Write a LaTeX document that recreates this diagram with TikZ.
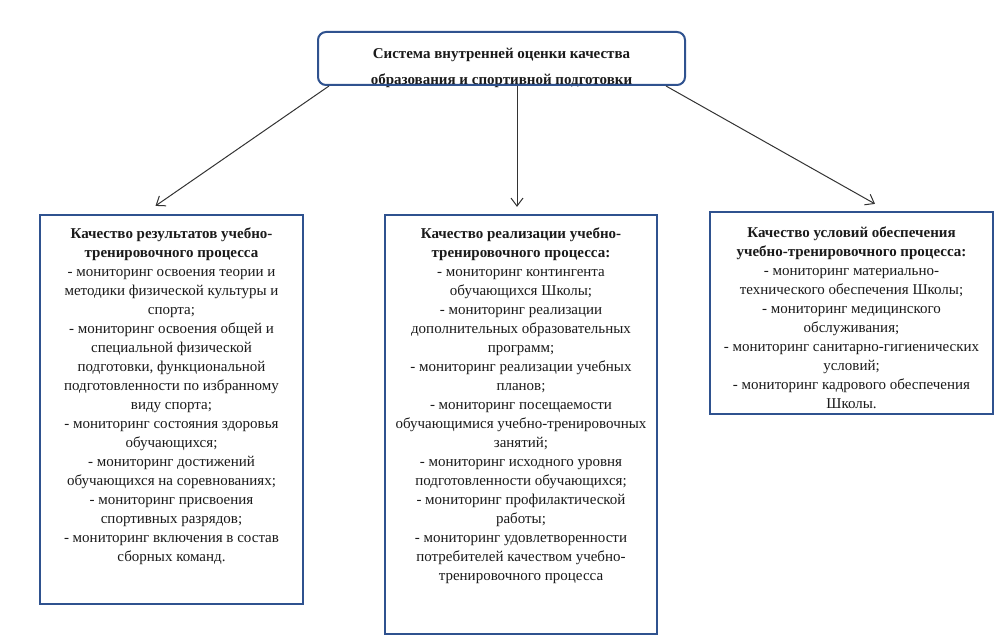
\documentclass[tikz,border=0pt]{standalone}
\usepackage{fontspec}
\setmainfont{Liberation Serif}
\usetikzlibrary{arrows.meta,positioning}
\definecolor{Frame}{HTML}{2F528F}
\definecolor{Ink}{HTML}{1A1A1A}
\definecolor{Wire}{HTML}{333333}
\tikzset{
  headbox/.style={draw=Frame,line width=2pt,rounded corners=8pt,minimum width=367pt,minimum height=53pt,inner sep=0pt},
  headtext/.style={align=center,font=\fontsize{15}{26}\selectfont\bfseries,text=Ink,inner sep=0pt},
  panel/.style={draw=Frame,line width=2.2pt,fill=white,inner sep=0pt},
  paneltext/.style={align=center,font=\fontsize{15}{19}\selectfont,text=Ink,inner sep=0pt,anchor=north},
  arrow/.style={-{Straight Barb[length=8pt,width=12pt]},line width=1pt,draw=Wire}
}

\begin{document}
\begin{tikzpicture}[x=1pt,y=-1pt]
  \useasboundingbox (0,0) rectangle (1003,644);
  \node[headtext] (systext) at (501.5,67.5) {Система внутренней оценки качества\\образования и спортивной подготовки};
  \node[headbox] (sys) at (501.5,58.5) {};

  \node[panel,minimum width=263pt,minimum height=389pt] (res) at (171.5,409.5) {};
  \node[panel,minimum width=272pt,minimum height=419pt] (real) at (521,424.5) {};
  \node[panel,minimum width=283pt,minimum height=202pt] (cond) at (851.5,313) {};

  \node[paneltext] (restext) at ([yshift=-14pt]res.north) {\textbf{Качество результатов учебно-}\\\textbf{тренировочного процесса}\\- мониторинг освоения теории и\\методики физической культуры и\\спорта;\\- мониторинг освоения общей и\\специальной физической\\подготовки, функциональной\\подготовленности по избранному\\виду спорта;\\- мониторинг состояния здоровья\\обучающихся;\\- мониторинг достижений\\обучающихся на соревнованиях;\\- мониторинг присвоения\\спортивных разрядов;\\- мониторинг включения в состав\\сборных команд.};
  \node[paneltext] (realtext) at ([yshift=-14pt]real.north) {\textbf{Качество реализации учебно-}\\\textbf{тренировочного процесса:}\\- мониторинг контингента\\обучающихся Школы;\\- мониторинг реализации\\дополнительных образовательных\\программ;\\- мониторинг реализации учебных\\планов;\\- мониторинг посещаемости\\обучающимися учебно-тренировочных\\занятий;\\- мониторинг исходного уровня\\подготовленности обучающихся;\\- мониторинг профилактической\\работы;\\- мониторинг удовлетворенности\\потребителей качеством учебно-\\тренировочного процесса};
  \node[paneltext] (condtext) at ([yshift=-16pt]cond.north) {\textbf{Качество условий обеспечения}\\\textbf{учебно-тренировочного процесса:}\\- мониторинг материально-\\технического обеспечения Школы;\\- мониторинг медицинского\\обслуживания;\\- мониторинг санитарно-гигиенических\\условий;\\- мониторинг кадрового обеспечения\\Школы.};

  \draw[arrow] ([xshift=12pt]sys.south west) -- ([xshift=-16pt,yshift=8pt]res.north);
  \draw[arrow] ([xshift=15.5pt]sys.south) -- ([xshift=15.5pt,yshift=7pt]sys.south |- real.north);
  \draw[arrow] ([xshift=-20pt]sys.south east) -- ([xshift=23.5pt,yshift=7pt]cond.north);
\end{tikzpicture}
\end{document}
